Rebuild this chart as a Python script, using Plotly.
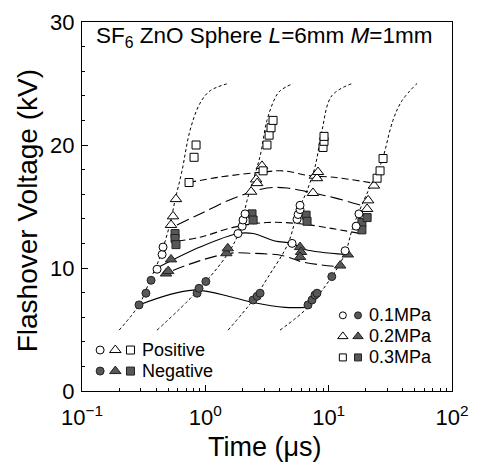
import plotly.graph_objects as go

FONT = "Liberation Sans, Arial, sans-serif"
OPEN_FILL = "white"
SOLID_FILL = "#585858"

# dotted V-t curves (time in us, voltage in kV)
curve1_t = [0.20, 0.29, 0.356, 0.429, 0.517, 0.568, 0.647, 0.752, 0.906, 1.09, 1.53]
curve1_v = [4.95, 7.0, 9.0, 10.9, 13.6, 15.5, 17.9, 21.2, 23.4, 24.4, 25.0]
curve2_t = [0.406, 0.857, 1.53, 1.91, 2.18, 2.78, 3.16, 3.67, 4.03, 5.14]
curve2_v = [4.95, 8.1, 11.2, 13.1, 15.5, 19.1, 22.0, 23.8, 24.4, 25.0]
curve3_t = [1.53, 2.44, 3.22, 4.69, 5.65, 6.56, 7.74, 8.83, 10.6, 15.5]
curve3_v = [4.95, 7.4, 9.25, 12.0, 14.7, 16.1, 18.2, 21.2, 24.0, 25.0]
curve4_t = [4.03, 6.80, 10.6, 13.6, 15.7, 19.7, 22.9, 27.0, 33.2, 39.3, 52.0]
curve4_v = [4.95, 6.8, 9.3, 11.2, 13.3, 15.7, 17.1, 18.7, 22.0, 23.6, 25.0]

# fitted connecting curves
pos03_t = [0.738, 1.32, 2.94, 4.27, 7.06, 10.25, 14.9, 22.9]
pos03_v = [16.95, 17.4, 17.8, 17.9, 17.5, 17.4, 17.2, 16.9]
pos02_t = [0.589, 0.906, 1.68, 3.16, 4.60, 7.46, 11.2, 19.7]
pos02_v = [13.5, 14.4, 15.65, 16.5, 16.5, 16.1, 15.7, 15.0]
neg03_t = [0.601, 0.906, 1.68, 3.16, 5.86, 10.8, 18.0]
neg03_v = [12.2, 12.5, 13.3, 13.7, 13.6, 13.2, 12.8]
pos01_t = [0.406, 0.906, 1.84, 2.44, 3.67, 5.05, 6.44, 13.6]
pos01_v = [10.0, 11.7, 12.8, 12.8, 12.2, 12.0, 11.5, 11.1]
neg02_t = [0.547, 0.906, 1.59, 2.31, 4.27, 6.08, 11.9]
neg02_v = [9.8, 10.6, 11.2, 11.2, 11.0, 10.5, 10.1]
neg01_t = [0.290, 0.794, 1.68, 2.44, 4.43, 6.68]
neg01_v = [7.0, 8.2, 7.6, 7.2, 6.8, 6.8]

# measured points
p01_t = [0.406, 0.446, 0.454, 1.84, 1.99, 2.02, 2.10, 5.05, 5.54, 5.65, 5.86, 5.86, 13.6, 16.7, 17.6]
p01_v = [9.9, 11.1, 11.7, 12.8, 13.4, 13.9, 14.4, 12.0, 13.95, 14.35, 14.75, 15.1, 11.4, 13.4, 14.4]
n01_t = [0.290, 0.330, 0.363, 0.857, 0.889, 1.01, 2.44, 2.63, 2.78, 6.80, 7.33, 7.74, 8.04, 10.6]
n01_v = [7.0, 7.95, 9.0, 7.95, 8.35, 8.9, 7.4, 7.7, 7.95, 7.0, 7.4, 7.8, 7.95, 9.3]
p02_t = [0.527, 0.547, 0.578, 2.35, 2.58, 2.63, 2.88, 7.46, 7.74, 8.04, 8.19, 20.5, 20.9, 23.3]
p02_v = [13.5, 14.2, 15.6, 16.2, 17.2, 16.9, 18.3, 16.1, 17.5, 17.3, 17.8, 14.8, 15.5, 16.7]
n02_t = [0.48, 0.50, 0.527, 1.48, 1.52, 5.86, 5.97, 5.86, 12.4, 14.3]
n02_v = [9.55, 9.75, 10.7, 11.2, 11.6, 11.7, 11.3, 10.9, 10.2, 11.1]
p03_t = [0.738, 0.810, 0.841, 2.94, 3.16, 3.29, 3.41, 3.54, 9.0, 9.17, 9.17, 24.7, 26.1, 27.6]
p03_v = [16.95, 19.0, 20.0, 17.9, 20.0, 20.8, 21.4, 22.0, 19.8, 20.3, 20.7, 17.3, 17.9, 18.9]
n03_t = [0.568, 0.568, 0.578, 2.39, 2.44, 6.56, 6.68, 18.6, 18.6, 20.5]
n03_v = [12.8, 12.4, 11.9, 14.4, 13.9, 14.3, 13.8, 13.7, 13.1, 14.1]

# key entries: (symbols, label)
key_left = [(["circle-open", "triangle-up-open", "square-open"], "Positive"),
            (["circle", "triangle-up", "square"], "Negative")]
key_right = [(["circle-open", "circle"], "0.1MPa"),
             (["triangle-up-open", "triangle-up"], "0.2MPa"),
             (["square-open", "square"], "0.3MPa")]

x_ticks = [0.1, 1, 10, 100]
x_ticktext = ["10<sup>\u22121</sup>", "10<sup>0</sup>", "10<sup>1</sup>", "10<sup>2</sup>"]
x_minor = [m * 10 ** e for e in (-1, 0, 1) for m in range(2, 10)]

fig = go.Figure()

for t, v in [(curve1_t, curve1_v), (curve2_t, curve2_v), (curve3_t, curve3_v), (curve4_t, curve4_v)]:
    fig.add_trace(go.Scatter(x=t, y=v, mode="lines", line_shape="spline",
                             line=dict(color="black", width=1, dash="3px,2.5px")))

for t, v, dash in [(pos03_t, pos03_v, "7px,4px"), (pos02_t, pos02_v, "13px,5px"),
                   (neg03_t, neg03_v, "7px,4px"), (pos01_t, pos01_v, "solid"),
                   (neg02_t, neg02_v, "12px,5px"), (neg01_t, neg01_v, "solid")]:
    fig.add_trace(go.Scatter(x=t, y=v, mode="lines", line_shape="spline",
                             line=dict(color="black", width=1.1, dash=dash)))


def add_points(t, v, symbol, filled, size):
    fig.add_trace(go.Scatter(
        x=t, y=v, mode="markers",
        marker=dict(symbol=symbol, size=size,
                    color=SOLID_FILL if filled else OPEN_FILL,
                    line=dict(color="#222" if filled else "black", width=1)),
    ))


add_points(n01_t, n01_v, "circle", True, 8)
add_points(n02_t, n02_v, "triangle-up", True, 10)
add_points(n03_t, n03_v, "square", True, 8)
add_points(p01_t, p01_v, "circle", False, 8)
add_points(p02_t, p02_v, "triangle-up", False, 10)
add_points(p03_t, p03_v, "square", False, 8)

# key symbols on an overlay axis spanning the plot area
annotations = []


def add_key(rows, x0, dx, y0, dy, size, text_x):
    for i, (symbols, label) in enumerate(rows):
        y = y0 - i * dy
        for j, s in enumerate(symbols):
            filled = not s.endswith("open")
            base = s.replace("-open", "")
            fig.add_trace(go.Scatter(
                x=[x0 + j * dx], y=[y], xaxis="x2", yaxis="y2", mode="markers",
                marker=dict(symbol=base, size=size + (2 if base == "triangle-up" else 0),
                            color=SOLID_FILL if filled else OPEN_FILL,
                            line=dict(color="#222" if filled else "black", width=1)),
            ))
        annotations.append(dict(x=text_x, y=y, xref="paper", yref="paper", text=label,
                                showarrow=False, xanchor="left", yanchor="middle",
                                font=dict(size=18, family=FONT, color="black")))


add_key(key_left, 0.049, 0.041, 0.111, 0.057, 8, 0.158)
add_key(key_right, 0.705, 0.041, 0.205, 0.057, 7, 0.770)

annotations += [
    dict(x=0.032, y=0.958, xref="paper", yref="paper", xanchor="left", yanchor="middle",
         text="SF<sub>6</sub> ZnO Sphere <i>L</i>=6mm <i>M</i>=1mm", showarrow=False,
         font=dict(size=22.5, family=FONT, color="black")),
    dict(x=0.495, y=-0.152, xref="paper", yref="paper", xanchor="center", yanchor="middle",
         text="Time (\u03bcs)", showarrow=False, font=dict(size=27, family=FONT, color="black")),
    dict(x=-0.145, y=0.488, xref="paper", yref="paper", xanchor="center", yanchor="middle",
         text="Flashover Voltage (kV)", textangle=-90, showarrow=False,
         font=dict(size=28, family=FONT, color="black")),
]

fig.update_layout(
    width=477,
    height=462,
    margin=dict(l=82, r=25, t=22, b=71, autoexpand=False),
    paper_bgcolor="white",
    plot_bgcolor="white",
    showlegend=False,
    annotations=annotations,
    xaxis=dict(
        type="log", range=[-1, 2], tickvals=x_ticks, ticktext=x_ticktext,
        ticks="inside", ticklen=6, tickcolor="black", showgrid=False, zeroline=False,
        showline=True, linecolor="black", linewidth=1, mirror=True, automargin=False,
        ticklabelstandoff=7,
        tickfont=dict(size=22, family=FONT, color="black"),
        minor=dict(tickvals=x_minor, ticks="inside", ticklen=3, tickcolor="black", showgrid=False),
    ),
    yaxis=dict(
        range=[0, 30], tickvals=[0, 10, 20, 30],
        ticks="inside", ticklen=6, tickcolor="black", showgrid=False, zeroline=False,
        showline=True, linecolor="black", linewidth=1, mirror=True, automargin=False,
        ticklabelstandoff=2,
        tickfont=dict(size=22, family=FONT, color="black"),
        minor=dict(dtick=2, ticks="inside", ticklen=3, tickcolor="black", showgrid=False),
    ),
    xaxis2=dict(range=[0, 1], overlaying="x", visible=False, fixedrange=True),
    yaxis2=dict(range=[0, 1], overlaying="y", visible=False, fixedrange=True),
)

fig.write_html("out.html", config={"displayModeBar": False},
               post_script="document.body.style.margin='0';")
